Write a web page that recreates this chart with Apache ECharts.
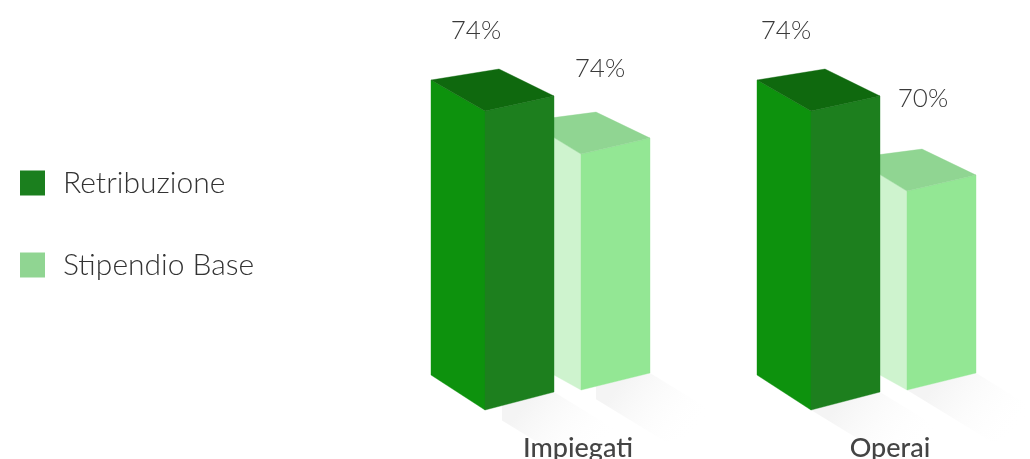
<!DOCTYPE html>
<html>
<head>
<meta charset="utf-8">
<style>html,body{margin:0;padding:0;background:#fff}#c{width:1030px;height:459px}</style>
<script src="https://cdn.jsdelivr.net/npm/echarts@6/dist/echarts.min.js"></script>
</head>
<body>
<div id="c"></div>
<script>
const categories = ['Impiegati', 'Operai'];
const retribuzione = [74, 74];
const stipendioBase = [74, 70];

// drawing settings, separate from the data
const darkLook = {
  left: '#0D920D', right: '#1D7F1E', top: '#0F690E', legend: '#1B7F1E',
  lx: -54, rx: 69, bx: 14, by: -42, lTop: -31, lBot: -35, rTop: -15, rBot: -18,
  labelOff: [[-9, -80], [-25, -80]], shadowCut: [17, 0]
};
const lightLook = {
  left: '#CEF3CE', right: '#93E794', top: '#90D592', legend: '#90D592',
  lx: -54, rx: 69, bx: 15, by: -42, lTop: -33, lBot: -30, rTop: -16, rBot: -17,
  labelOff: [[19, -85], [16, -92]], shadowCut: [15, 0]
};
const labelFont = '300 26px Lato, sans-serif';

function poly(points, fill, z2) {
  return { type: 'polygon', z2: z2 || 0, shape: { points },
    style: { fill, stroke: fill, lineWidth: 0.4 }, silent: true };
}
function bar3d(look) {
  return function (params, api) {
    const i = api.value(0), v = api.value(1);
    const t = api.coord([i, v]);
    const yAxisMin = params.seriesIndex === 0 ? 48.5 : 0;
    const b = api.coord([i, yAxisMin]);
    const x = t[0], yt = t[1], yb = b[1];
    const cut = look.shadowCut[i];
    const sdx = 85, sdy = 52;
    const shadow = {
      type: 'polygon', z2: -10, silent: true,
      shape: { points: [
        [x + cut, yb + look.rBot * cut / look.rx],
        [x + look.rx, yb + look.rBot],
        [x + look.rx + sdx, yb + look.rBot + sdy],
        [x + sdx, yb + sdy],
        [x + cut, yb + sdy * cut / sdx]
      ] },
      style: { fill: {
        type: 'linear', x: 0.2, y: 0.1, x2: 0.7, y2: 0.9,
        colorStops: [{ offset: 0, color: '#F4F4F4' }, { offset: 1, color: 'rgba(255,255,255,0)' }]
      } }
    };
    const leftF = poly([[x + look.lx, yt + look.lTop], [x, yt], [x, yb], [x + look.lx, yb + look.lBot]], look.left);
    const rightF = poly([[x, yt], [x + look.rx, yt + look.rTop], [x + look.rx, yb + look.rBot], [x, yb]], look.right);
    const topF = poly([[x + look.lx, yt + look.lTop], [x + look.bx, yt + look.by], [x + look.rx, yt + look.rTop], [x, yt]], look.top);
    const off = look.labelOff[i];
    const label = {
      type: 'text', z2: 10, silent: true,
      style: { text: v + '%', x: x + off[0], y: yt + off[1], align: 'center', verticalAlign: 'middle',
        font: labelFont, fill: '#3A3A3A' }
    };
    return { type: 'group', children: [shadow, leftF, rightF, topF, label] };
  };
}

const chart = echarts.init(document.getElementById('c'), null, { renderer: 'canvas' });
chart.setOption({
  animation: false,
  backgroundColor: '#fff',
  legend: {
    orient: 'vertical', left: 15, top: 163,
    itemWidth: 25, itemHeight: 25, itemGap: 52, icon: 'rect',
    data: ['Retribuzione', 'Stipendio Base'],
    textStyle: { fontFamily: 'Lato, sans-serif', fontWeight: 300, fontSize: 30, color: '#333', padding: [0, 0, 0, 13] },
    selectedMode: false
  },
  grid: [
    { outerBoundsMode: 'none', left: 322, width: 652, top: 6, bottom: 49 },
    { outerBoundsMode: 'none', left: 418, width: 652, top: 98.6, bottom: 69 },
    { outerBoundsMode: 'none', left: 422, width: 624, top: 420, bottom: 29 }
  ],
  xAxis: [
    { type: 'category', gridIndex: 0, data: categories, show: false },
    { type: 'category', gridIndex: 1, data: categories, show: false },
    { type: 'category', gridIndex: 2, data: categories, z: 20,
      axisLine: { show: false }, axisTick: { show: false },
      axisLabel: { margin: 5, fontFamily: 'Lato, sans-serif', fontWeight: 500, fontSize: 27, color: '#444' } }
  ],
  yAxis: [
    { type: 'value', gridIndex: 0, min: 0, max: 100, show: false },
    { type: 'value', gridIndex: 1, min: 48.5, max: 80, show: false },
    { type: 'value', gridIndex: 2, min: 0, max: 1, show: false }
  ],
  series: [
    { name: 'Stipendio Base', type: 'custom', xAxisIndex: 1, yAxisIndex: 1, z: 2,
      itemStyle: { color: lightLook.legend }, renderItem: bar3d(lightLook),
      encode: { x: 0, y: 1 }, data: stipendioBase.map((v, i) => [i, v]) },
    { name: 'Retribuzione', type: 'custom', xAxisIndex: 0, yAxisIndex: 0, z: 3,
      itemStyle: { color: darkLook.legend }, renderItem: bar3d(darkLook),
      encode: { x: 0, y: 1 }, data: retribuzione.map((v, i) => [i, v]) }
  ]
});
</script>
</body>
</html>
